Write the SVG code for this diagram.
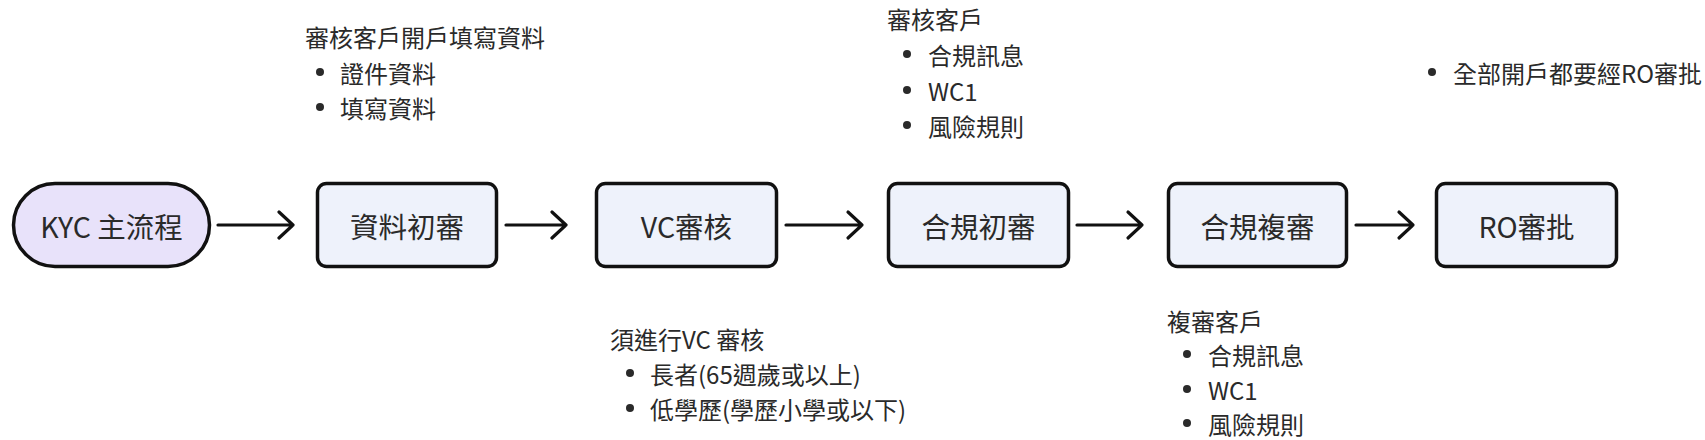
<svg xmlns="http://www.w3.org/2000/svg" width="1705" height="440" viewBox="0 0 1705 440">
<style>
.node rect{stroke:#111;stroke-width:3.5;}
.step rect{fill:#eef2fb;}
.start rect{fill:#e8e2fa;}
.lbl{font-family:"Noto Sans CJK TC","Noto Sans",sans-serif;font-size:28.5px;fill:#2a2a2a;text-anchor:middle;dominant-baseline:central;}
.note{font-family:"Noto Sans CJK TC","Noto Sans",sans-serif;font-size:24px;fill:#2a2a2a;dominant-baseline:central;}
.dot{fill:#2a2a2a;}
.edge{fill:none;stroke:#111;stroke-width:3.2;stroke-linecap:round;stroke-linejoin:round;}
</style>
<rect width="1705" height="440" fill="#fff"/>
<g id="connectors">
<path class="edge" d="M218 225H293M279 212L293 225L279 238"/>
<path class="edge" d="M506 225H566M552 212L566 225L552 238"/>
<path class="edge" d="M786 225H862M848 212L862 225L848 238"/>
<path class="edge" d="M1077 225H1142M1128 212L1142 225L1128 238"/>
<path class="edge" d="M1356 225H1413M1399 212L1413 225L1399 238"/>
</g>
<g id="kyc" class="node start"><rect x="13.5" y="183.5" width="196" height="83" rx="41.5"/><text class="lbl" x="111.5" y="225">KYC 主流程</text></g>
<g id="n1" class="node step"><rect x="317.5" y="183.5" width="179" height="83" rx="9"/><text class="lbl" x="407" y="225">資料初審</text></g>
<g id="n2" class="node step"><rect x="596.5" y="183.5" width="180" height="83" rx="9"/><text class="lbl" x="686.5" y="225">VC審核</text></g>
<g id="n3" class="node step"><rect x="888.5" y="183.5" width="180" height="83" rx="9"/><text class="lbl" x="978.5" y="225">合規初審</text></g>
<g id="n4" class="node step"><rect x="1168.5" y="183.5" width="178" height="83" rx="9"/><text class="lbl" x="1257.5" y="225">合規複審</text></g>
<g id="n5" class="node step"><rect x="1436.5" y="183.5" width="180" height="83" rx="9"/><text class="lbl" x="1526.5" y="225">RO審批</text></g>
<g id="note1">
<text class="note" x="305" y="36">審核客戶開戶填寫資料</text>
<circle class="dot" cx="320" cy="72" r="4"/><text class="note" x="340" y="72">證件資料</text>
<circle class="dot" cx="320" cy="107" r="4"/><text class="note" x="340" y="107">填寫資料</text>
</g>
<g id="note2">
<text class="note" x="887" y="18">審核客戶</text>
<circle class="dot" cx="907" cy="54" r="4"/><text class="note" x="928" y="54">合規訊息</text>
<circle class="dot" cx="907" cy="90" r="4"/><text class="note" x="928" y="90">WC1</text>
<circle class="dot" cx="907" cy="125" r="4"/><text class="note" x="928" y="125">風險規則</text>
</g>
<g id="note3">
<circle class="dot" cx="1432" cy="72" r="4"/><text class="note" x="1453" y="72">全部開戶都要經RO審批</text>
</g>
<g id="note4">
<text class="note" x="610" y="338">須進行VC 審核</text>
<circle class="dot" cx="630" cy="373" r="4"/><text class="note" x="650" y="373">長者(65週歲或以上)</text>
<circle class="dot" cx="630" cy="408" r="4"/><text class="note" x="650" y="408">低學歷(學歷小學或以下)</text>
</g>
<g id="note5">
<text class="note" x="1167" y="320">複審客戶</text>
<circle class="dot" cx="1187" cy="354" r="4"/><text class="note" x="1208" y="354">合規訊息</text>
<circle class="dot" cx="1187" cy="389" r="4"/><text class="note" x="1208" y="389">WC1</text>
<circle class="dot" cx="1187" cy="423" r="4"/><text class="note" x="1208" y="423">風險規則</text>
</g>
</svg>
